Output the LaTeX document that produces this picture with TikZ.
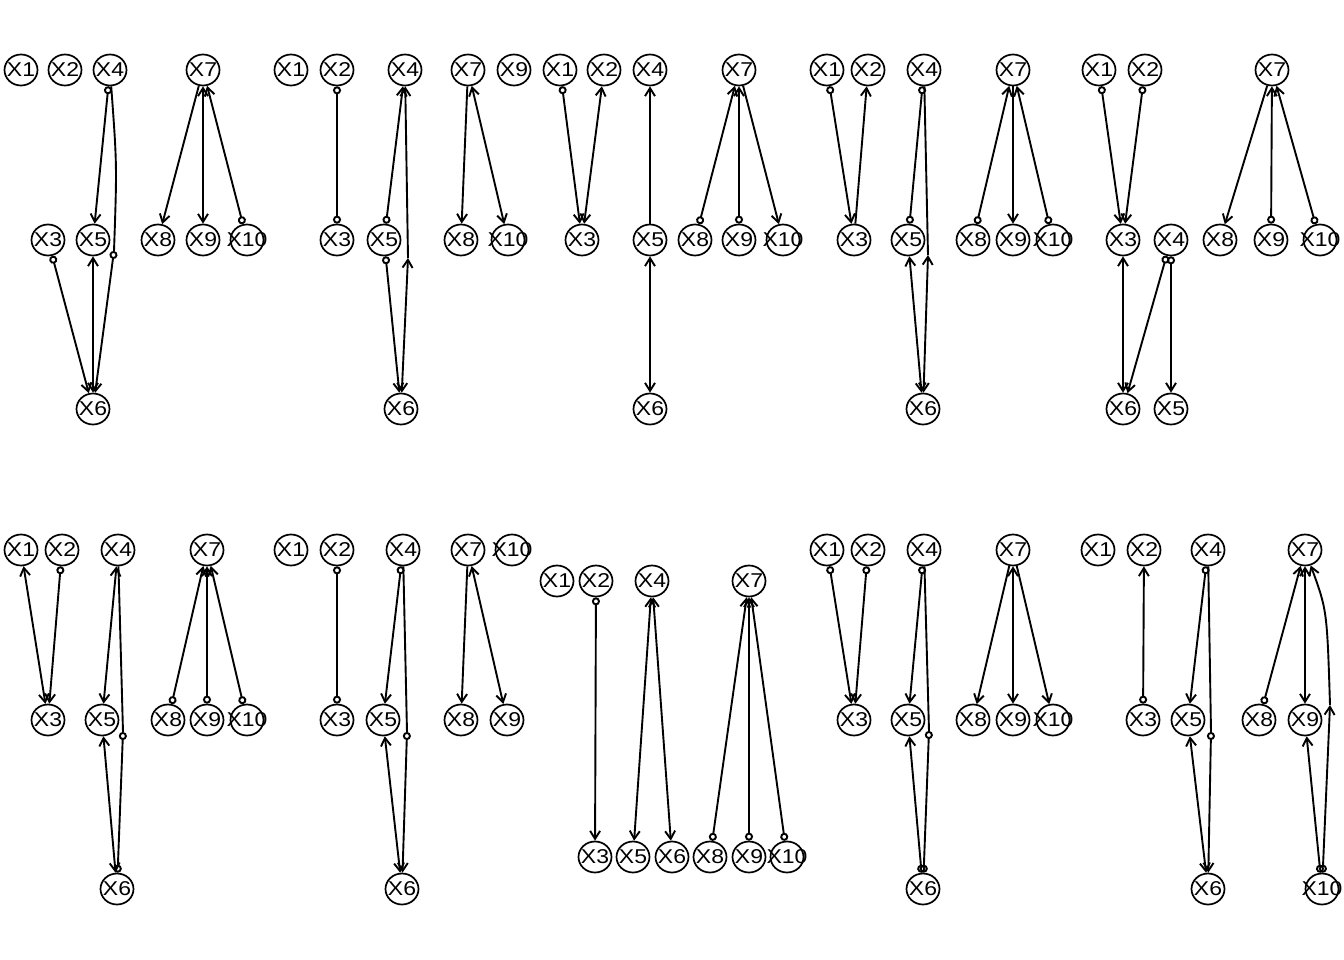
\documentclass[tikz,border=0pt]{standalone}
\usepackage{fontspec}
\setmainfont{Liberation Sans}[FakeStretch=1.15]
\usepackage{tikz}
\usetikzlibrary{shapes.geometric, arrows.meta}
\tikzset{
  var/.style={ellipse, draw, line width=1.7pt, fill=white,
    minimum width=33pt, minimum height=31pt, inner sep=0pt,
    font=\fontsize{20}{20}\selectfont,
    execute at begin node={\hbox to 0pt\bgroup\hss},
    execute at end node={\hss\egroup}},
  barb/.tip={Straight Barb[length=8pt, width=10pt]},
  ring/.tip={Circle[open, length=8pt]},
  link/.style={line width=1.9pt, color=black},
  tailhead/.style={link, -barb},
  circhead/.style={link, ring-barb},
  headhead/.style={link, barb-barb},
  circcirc/.style={link, ring-ring},
  headtail/.style={link, barb-},
  headcirc/.style={link, barb-ring}
}
\begin{document}
\begin{tikzpicture}[x=1pt, y=-1pt]
  \useasboundingbox (0,0) rectangle (1344,960);

  % Graph a
  \node[var] (a1) at (21,70) {X1};
  \node[var] (a2) at (65,70) {X2};
  \node[var] (a4) at (110,70) {X4};
  \node[var] (a7) at (203,70) {X7};
  \node[var] (a3) at (48,240) {X3};
  \node[var] (a5) at (93,240) {X5};
  \node[var] (a8) at (158,240) {X8};
  \node[var] (a9) at (203,240) {X9};
  \node[var] (a10) at (247,240) {X10};
  \node[var] (a6) at (93,409) {X6};
  \coordinate (am) at (114,251);

  \draw[circhead] (a4) -- (a5);
  \draw[link] (a4) .. controls (117,165) .. (am);
  \draw[circhead] (am) -- (a6);
  \draw[circhead] (a3) -- (a6);
  \draw[headhead] (a5) -- (a6);
  \draw[tailhead] (a7) -- (a8);
  \draw[headhead] (a7) -- (a9);
  \draw[circhead] (a10) -- (a7);

  % Graph b
  \node[var] (b1) at (291,70) {X1};
  \node[var] (b2) at (337,70) {X2};
  \node[var] (b4) at (405,70) {X4};
  \node[var] (b7) at (468,70) {X7};
  \node[var] (b9) at (514,70) {X9};
  \node[var] (b3) at (337,240) {X3};
  \node[var] (b5) at (384,240) {X5};
  \node[var] (b8) at (461,240) {X8};
  \node[var] (b10) at (508,240) {X10};
  \node[var] (b6) at (401,409) {X6};
  \coordinate (bm) at (408,258);

  \draw[circcirc] (b2) -- (b3);
  \draw[circhead] (b5) -- (b4);
  \draw[headtail] (b4) -- (bm);
  \draw[headhead] (bm) -- (b6);
  \draw[circhead] (b5) -- (b6);
  \draw[tailhead] (b7) -- (b8);
  \draw[headhead] (b7) -- (b10);

  % Graph c
  \node[var] (c1) at (560,70) {X1};
  \node[var] (c2) at (604,70) {X2};
  \node[var] (c4) at (650,70) {X4};
  \node[var] (c7) at (739,70) {X7};
  \node[var] (c3) at (582,240) {X3};
  \node[var] (c5) at (650,240) {X5};
  \node[var] (c8) at (695,240) {X8};
  \node[var] (c9) at (739,240) {X9};
  \node[var] (c10) at (783,240) {X10};
  \node[var] (c6) at (650,409) {X6};

  \draw[circhead] (c1) -- (c3);
  \draw[headhead] (c3) -- (c2);
  \draw[tailhead] (c5) -- (c4);
  \draw[headhead] (c5) -- (c6);
  \draw[circhead] (c8) -- (c7);
  \draw[circhead] (c9) -- (c7);
  \draw[tailhead] (c7) -- (c10);

  % Graph d
  \node[var] (d1) at (827,70) {X1};
  \node[var] (d2) at (868,70) {X2};
  \node[var] (d4) at (924,70) {X4};
  \node[var] (d7) at (1013,70) {X7};
  \node[var] (d3) at (854,240) {X3};
  \node[var] (d5) at (908,240) {X5};
  \node[var] (d8) at (973,240) {X8};
  \node[var] (d9) at (1013,240) {X9};
  \node[var] (d10) at (1053,240) {X10};
  \node[var] (d6) at (923,409) {X6};
  \coordinate (dm) at (928,255);

  \draw[circhead] (d1) -- (d3);
  \draw[tailhead] (d3) -- (d2);
  \draw[circcirc] (d4) -- (d5);
  \draw[link] (d4) -- (dm);
  \draw[headhead] (dm) -- (d6);
  \draw[headhead] (d5) -- (d6);
  \draw[circhead] (d8) -- (d7);
  \draw[tailhead] (d7) -- (d9);
  \draw[circhead] (d10) -- (d7);

  % Graph e
  \node[var] (e1) at (1099,70) {X1};
  \node[var] (e2) at (1145,70) {X2};
  \node[var] (e7) at (1272,70) {X7};
  \node[var] (e3) at (1123,240) {X3};
  \node[var] (e4) at (1171,240) {X4};
  \node[var] (e8) at (1220,240) {X8};
  \node[var] (e9) at (1271,240) {X9};
  \node[var] (e10) at (1320,240) {X10};
  \node[var] (e6) at (1123,409) {X6};
  \node[var] (e5) at (1171,409) {X5};

  \draw[circhead] (e1) -- (e3);
  \draw[circhead] (e2) -- (e3);
  \draw[headhead] (e3) -- (e6);
  \draw[circhead] (e4) -- (e6);
  \draw[circhead] (e4) -- (e5);
  \draw[tailhead] (e7) -- (e8);
  \draw[circhead] (e9) -- (e7);
  \draw[circhead] (e10) -- (e7);

  % Graph f
  \node[var] (f1) at (21,550) {X1};
  \node[var] (f2) at (62,550) {X2};
  \node[var] (f4) at (118,550) {X4};
  \node[var] (f7) at (207,550) {X7};
  \node[var] (f3) at (48,720) {X3};
  \node[var] (f5) at (102,720) {X5};
  \node[var] (f8) at (168,720) {X8};
  \node[var] (f9) at (207,720) {X9};
  \node[var] (f10) at (247,720) {X10};
  \node[var] (f6) at (117,889) {X6};
  \coordinate (fm) at (123,732);

  \draw[headhead] (f1) -- (f3);
  \draw[circhead] (f2) -- (f3);
  \draw[headhead] (f4) -- (f5);
  \draw[link] (f4) -- (fm);
  \draw[circcirc] (fm) -- (f6);
  \draw[headhead] (f5) -- (f6);
  \draw[circhead] (f8) -- (f7);
  \draw[circhead] (f9) -- (f7);
  \draw[circhead] (f10) -- (f7);

  % Graph g
  \node[var] (g1) at (291,550) {X1};
  \node[var] (g2) at (337,550) {X2};
  \node[var] (g4) at (403,550) {X4};
  \node[var] (g7) at (468,550) {X7};
  \node[var] (g10) at (512,550) {X10};
  \node[var] (g3) at (337,720) {X3};
  \node[var] (g5) at (383,720) {X5};
  \node[var] (g8) at (461,720) {X8};
  \node[var] (g9) at (507,720) {X9};
  \node[var] (g6) at (402,889) {X6};
  \coordinate (gm) at (407,732);

  \draw[circcirc] (g2) -- (g3);
  \draw[circhead] (g4) -- (g5);
  \draw[link] (g4) -- (gm);
  \draw[circhead] (gm) -- (g6);
  \draw[headhead] (g5) -- (g6);
  \draw[tailhead] (g7) -- (g8);
  \draw[headhead] (g7) -- (g9);

  % Graph h
  \node[var] (h1) at (557,581) {X1};
  \node[var] (h2) at (596,581) {X2};
  \node[var] (h4) at (652,581) {X4};
  \node[var] (h7) at (749,581) {X7};
  \node[var] (h3) at (595,857) {X3};
  \node[var] (h5) at (633,857) {X5};
  \node[var] (h6) at (672,857) {X6};
  \node[var] (h8) at (710,857) {X8};
  \node[var] (h9) at (749,857) {X9};
  \node[var] (h10) at (787,857) {X10};

  \draw[circhead] (h2) -- (h3);
  \draw[headhead] (h4) -- (h5);
  \draw[headhead] (h4) -- (h6);
  \draw[circhead] (h8) -- (h7);
  \draw[circhead] (h9) -- (h7);
  \draw[circhead] (h10) -- (h7);

  % Graph i
  \node[var] (i1) at (827,550) {X1};
  \node[var] (i2) at (868,550) {X2};
  \node[var] (i4) at (924,550) {X4};
  \node[var] (i7) at (1013,550) {X7};
  \node[var] (i3) at (854,720) {X3};
  \node[var] (i5) at (908,720) {X5};
  \node[var] (i8) at (973,720) {X8};
  \node[var] (i9) at (1013,720) {X9};
  \node[var] (i10) at (1053,720) {X10};
  \node[var] (i6) at (923,889) {X6};
  \coordinate (im) at (929,731);

  \draw[circhead] (i1) -- (i3);
  \draw[circhead] (i2) -- (i3);
  \draw[circhead] (i4) -- (i5);
  \draw[link] (i4) -- (im);
  \draw[circcirc] (im) -- (i6);
  \draw[circhead] (i6) -- (i5);
  \draw[tailhead] (i7) -- (i8);
  \draw[headhead] (i7) -- (i9);
  \draw[tailhead] (i7) -- (i10);

  % Graph j
  \node[var] (j1) at (1098,550) {X1};
  \node[var] (j2) at (1144,550) {X2};
  \node[var] (j4) at (1208,550) {X4};
  \node[var] (j7) at (1305,550) {X7};
  \node[var] (j3) at (1143,720) {X3};
  \node[var] (j5) at (1188,720) {X5};
  \node[var] (j8) at (1259,720) {X8};
  \node[var] (j9) at (1305,720) {X9};
  \node[var] (j6) at (1208,889) {X6};
  \node[var] (j10) at (1322,889) {X10};
  \coordinate (jm) at (1211,732);
  \coordinate (jn) at (1330,705);

  \draw[circhead] (j3) -- (j2);
  \draw[circhead] (j4) -- (j5);
  \draw[link] (j4) -- (jm);
  \draw[circhead] (jm) -- (j6);
  \draw[headhead] (j5) -- (j6);
  \draw[circhead] (j8) -- (j7);
  \draw[headhead] (j7) -- (j9);
  \draw[circhead] (j10) -- (j9);
  \draw[headtail] (j7) .. controls (1327,610) .. (jn);
  \draw[headcirc] (jn) -- (j10);
\end{tikzpicture}
\end{document}
